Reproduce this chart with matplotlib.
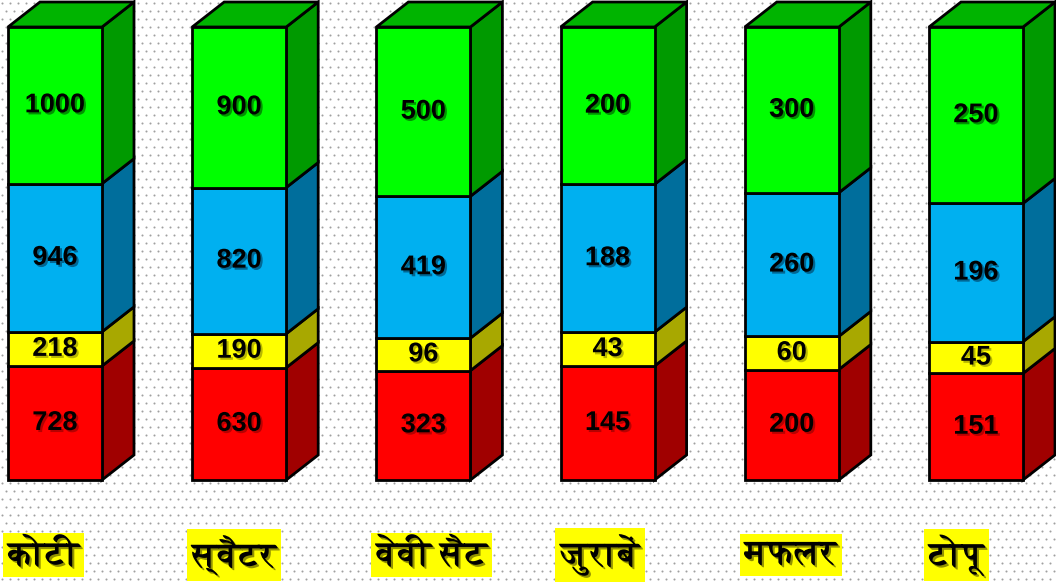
import numpy as np
import matplotlib
matplotlib.use("Agg")
import matplotlib.pyplot as plt
from matplotlib import font_manager
from matplotlib.ft2font import FT2Font
from matplotlib.patches import Polygon
import matplotlib.patheffects as pe

categories = ["कोटी", "स्वैटर", "वेवी सैट", "जुराबें", "मफलर", "टोपू"]
red_vals = [728, 630, 323, 145, 200, 151]
yellow_vals = [218, 190, 96, 43, 60, 45]
blue_vals = [946, 820, 419, 188, 260, 196]
green_vals = [1000, 900, 500, 200, 300, 250]

# look for an installed font that can draw Devanagari
deva_font = None
for f in font_manager.fontManager.ttflist:
    try:
        if 0x0915 in FT2Font(f.fname).get_charmap():
            deva_font = f.name
            if f.weight in ("bold", 700):
                break
    except Exception:
        pass
label_family = [deva_font, "DejaVu Sans"] if deva_font else ["DejaVu Sans"]

series = [red_vals, yellow_vals, blue_vals, green_vals]
front = ["#ff0000", "#ffff00", "#00b0f0", "#00ff00"]
side = ["#a00000", "#a8a800", "#006e9c", "#009a00"]
shadow = ["#b00000", "#b0b000", "#005f8a", "#008800"]
top_col = "#00b400"

W, H = 1056, 585
fig = plt.figure(figsize=(W / 100, H / 100), dpi=100)
fig.patch.set_facecolor("white")

# dotted background
bg = fig.add_axes([0, 0, 1, 1])
bg.set_xlim(0, W)
bg.set_ylim(H, 0)
bg.axis("off")
gx, gy = np.meshgrid(np.arange(2, W, 8), np.arange(3, H, 8))
gx = gx + (np.arange(gy.shape[0])[:, None] % 2) * 4
bg.scatter(gx.ravel(), gy.ravel(), s=2.2, c="#a0a0a0", linewidths=0)

# chart axes: y in percent, 0 at px 480 from top, 100 at px 27
ppu = 4.53
ybot = -(H - 480) / ppu
ytop = ybot + H / ppu
step = 184.2
ax = fig.add_axes([0, 0, 1, 1])
ax.patch.set_alpha(0)
ax.set_xlim(-8 / step, (W - 8) / step)
ax.set_ylim(ybot, ytop)
ax.axis("off")

bw = 94 / step
dx = 32 / step
dy = 25 / ppu

for i, cat in enumerate(categories):
    tot = sum(s[i] for s in series)
    base = 0.0
    x0 = i
    for k, s in enumerate(series):
        h = s[i] / tot * 100
        y0, y1 = base, base + h
        ax.add_patch(Polygon([(x0, y0), (x0 + bw, y0), (x0 + bw, y1), (x0, y1)],
                             closed=True, fc=front[k], ec="black", lw=2, zorder=3))
        ax.add_patch(Polygon([(x0 + bw, y0), (x0 + bw + dx, y0 + dy),
                              (x0 + bw + dx, y1 + dy), (x0 + bw, y1)],
                             closed=True, fc=side[k], ec="black", lw=2, zorder=2))
        ax.text(x0 + bw / 2, (y0 + y1) / 2, str(s[i]), ha="center", va="center",
                fontsize=19.5, fontweight="bold", family="Liberation Sans", color="black",
                zorder=5,
                path_effects=[pe.withSimplePatchShadow(offset=(1.5, -1.5), shadow_rgbFace=shadow[k], alpha=0.9)])
        base = y1
    ax.add_patch(Polygon([(x0, 100), (x0 + bw, 100), (x0 + bw + dx, 100 + dy), (x0 + dx, 100 + dy)],
                         closed=True, fc=top_col, ec="black", lw=2, zorder=2))
    ax.text(x0, ybot + (H - 555) / ppu, cat, ha="left", va="center", fontsize=25,
            fontweight="bold", family=label_family, color="black", zorder=5,
            bbox=dict(boxstyle="square,pad=0.15", fc="#ffff00", ec="none"),
            path_effects=[pe.withSimplePatchShadow(offset=(1.5, -1.5), shadow_rgbFace="#777700", alpha=0.8)])

fig.savefig("out.png", dpi=100)
